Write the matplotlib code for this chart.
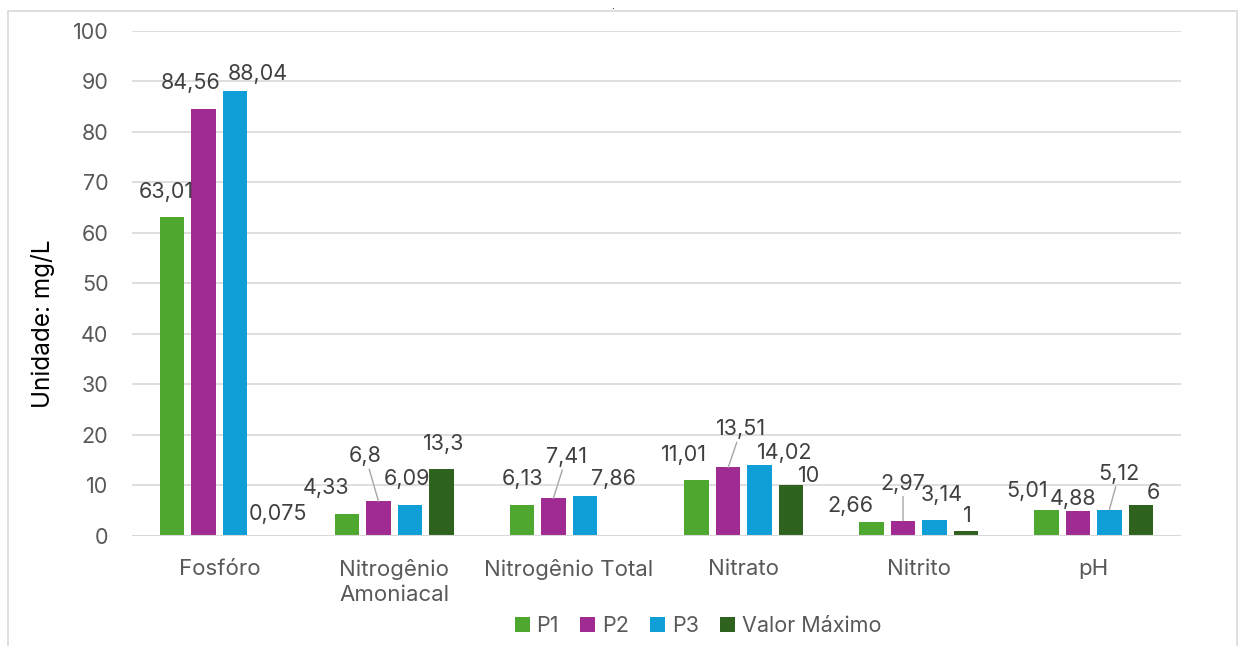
import numpy as np
import matplotlib.pyplot as plt
from matplotlib.patches import Rectangle

plt.rcParams['font.family'] = ['Inter', 'DejaVu Sans']

categories = ["Fosfóro", "Nitrogênio\nAmoniacal", "Nitrogênio Total", "Nitrato", "Nitrito", "pH"]
series_names = ["P1", "P2", "P3", "Valor Máximo"]
p1 = [63.01, 4.33, 6.13, 11.01, 2.66, 5.01]
p2 = [84.56, 6.8, 7.41, 13.51, 2.97, 4.88]
p3 = [88.04, 6.09, 7.86, 14.02, 3.14, 5.12]
valor_max = [0.075, 13.3, np.nan, 10, 1, 6]

colors = ["#4EA72E", "#A02B93", "#0F9ED5", "#2E621E"]

# label offsets (pixels) from the top-centre of each bar, and which get a leader line
label_offsets = [
    [(-6, 25), (-21, 26), (1, 26), (-13, 25), (-21, 16), (-19, 19)],
    [(-13, 26), (-13, 45), (13, 41), (13, 38), (0, 37), (-5, 12)],
    [(23, 17), (-3, 26), (29, 17), (25, 12), (7, 25), (10, 36)],
    [(11, 21), (2, 25), (0, 0), (18, 9), (1, 15), (13, 12)],
]
leaders = {(1, 1), (1, 2), (1, 3), (1, 4), (2, 5)}


def fmt(v):
    s = f"{v:.3f}".rstrip("0").rstrip(".")
    return s.replace(".", ",")


fig = plt.figure(figsize=(12.39, 6.46), dpi=100)
ax = fig.add_axes([132 / 1239, 1 - 535.7 / 646, 1049 / 1239, 505 / 646])

x = np.arange(len(categories))
step = 0.18
width = 0.14
all_series = [p1, p2, p3, valor_max]
for i, (vals, name, col) in enumerate(zip(all_series, series_names, colors)):
    xs = x + (i - 1.5) * step
    ax.bar(xs, vals, width, color=col, label=name, zorder=3)
    for j, v in enumerate(vals):
        if np.isnan(v):
            continue
        dx, dy = label_offsets[i][j]
        arrow = None
        if (i, j) in leaders:
            arrow = dict(arrowstyle="-", color="#a6a6a6", lw=1, shrinkA=0, shrinkB=0)
        ax.annotate(fmt(v), xy=(xs[j], v), xytext=(dx, dy), textcoords="offset pixels",
                    ha="center", va="center", fontsize=15.5, color="#404040",
                    arrowprops=arrow, zorder=4)

# category axis line sits over the bar bases
ax.axhline(0, color="#d9d9d9", lw=1.5, zorder=3.5)

ax.set_xlim(-0.5, len(categories) - 0.5)
ax.set_ylim(0, 100)
ax.set_yticks(np.arange(0, 101, 10))
ax.set_xticks(x)
ax.set_xticklabels(categories, linespacing=1.3)
ax.grid(axis="y", color="#d9d9d9", lw=1.2, zorder=0)
ax.tick_params(length=0, labelsize=15.5, labelcolor="#595959")
ax.tick_params(axis="y", pad=17)
ax.tick_params(axis="x", labelsize=16, pad=17)
for s in ax.spines.values():
    s.set_visible(False)
ax.set_ylabel("Unidade: mg/L", fontsize=17.5, color="#000000")
ax.yaxis.set_label_coords(-0.0734, 0.419)

fig.legend(loc="center", bbox_to_anchor=(698 / 1239, 1 - 626 / 646), ncol=4, frameon=False,
           fontsize=15.5, handlelength=0.7, handleheight=0.7, handletextpad=0.3,
           columnspacing=1.0, labelcolor="#595959")

fig.text(613 / 1239, 1 - 1 / 646, ".", ha="center", va="top", fontsize=7, color="#000000")
fig.patches.append(Rectangle((8 / 1239, -0.1), 1229 / 1239, 1.1 - 11 / 646, transform=fig.transFigure,
                             fill=False, edgecolor="#d9d9d9", lw=1.2))

fig.savefig("out.png", dpi=100)
